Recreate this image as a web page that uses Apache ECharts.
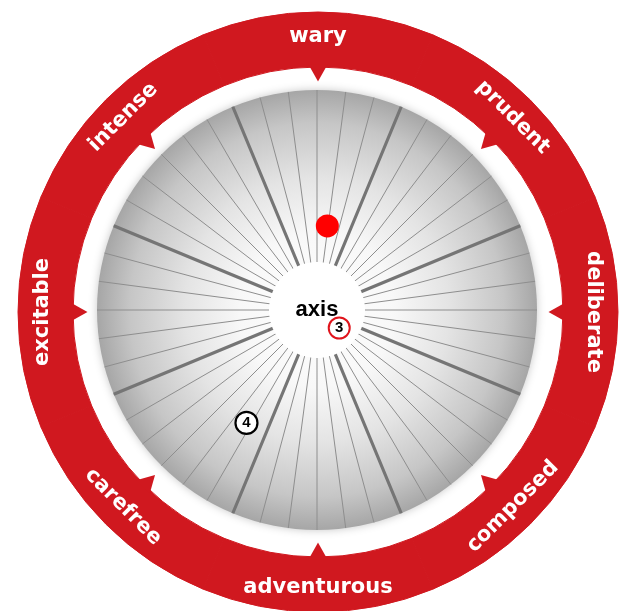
<!DOCTYPE html>
<html><head><meta charset="utf-8">
<script src="https://cdn.jsdelivr.net/npm/echarts@6/dist/echarts.min.js"></script>
<style>html,body{margin:0;padding:0;background:#fff}#c{width:621px;height:611px}</style>
</head><body><div id="c"></div>
<script>
// ---- data ----
const traits = ['wary', 'prudent', 'deliberate', 'composed', 'adventurous', 'carefree', 'excitable', 'intense'];
const traitAngles = [90, 45, 0, -45, -90, -135, 180, 135];
const centerLabel = 'axis';
const markerNames = ['', '3', '4'];
const markerRadius = [38.5, 13, 60.5];
const markerAngle = [83, 321, 238];
const spokeInterval = 7.5;
const sectorInterval = 45;

// ---- styles ----
const RED = '#d0181f';
const discC = [317, 310], ringC = [318, 312];
const markerStyles = [
  { size: 23, color: '#ff0000', border: '#ff0000', bw: 0 },
  { size: 21, color: '#ffffff', border: '#e0141c', bw: 2 },
  { size: 22, color: '#ffffff', border: '#000000', bw: 2.2 }
];

function hiddenRadius(idx, max) {
  return { polarIndex: idx, type: 'value', min: 0, max: max,
    axisLine: { show: false }, axisTick: { show: false }, axisLabel: { show: false }, splitLine: { show: false } };
}
function angleAx(idx, interval, start, line) {
  return { polarIndex: idx, type: 'value', min: 0, max: 360, interval: interval, startAngle: start, clockwise: false, z: 3,
    axisLine: { show: false }, axisTick: { show: false }, axisLabel: { show: false },
    splitLine: line ? { show: true, lineStyle: line } : { show: false } };
}

const chart = echarts.init(document.getElementById('c'), null, { renderer: 'canvas' });
const option = {
  backgroundColor: '#ffffff',
  animation: false,
  polar: [
    { center: discC, radius: 220 },
    { center: discC, radius: 220 },
    { center: ringC, radius: 300 }
  ],
  angleAxis: [
    angleAx(0, spokeInterval, 0, { color: '#8e8e8e', width: 1 }),
    angleAx(1, sectorInterval, 22.5, { color: '#757575', width: 3.2 }),
    angleAx(2, sectorInterval, 0, null)
  ],
  radiusAxis: [hiddenRadius(0, 100), hiddenRadius(1, 100), hiddenRadius(2, 300)],
  series: [
    { // gray disc
      type: 'pie', center: discC, radius: [0, 220], z: 1, silent: true,
      label: { show: false }, labelLine: { show: false },
      itemStyle: {
        color: new echarts.graphic.RadialGradient(0.5, 0.5, 0.5, [
          { offset: 0, color: '#ffffff' },
          { offset: 0.35, color: '#f8f8f8' },
          { offset: 0.6, color: '#e4e4e4' },
          { offset: 0.85, color: '#c6c6c6' },
          { offset: 1, color: '#a6a6a6' }
        ]),
        shadowBlur: 8, shadowColor: 'rgba(0,0,0,0.22)'
      },
      data: [{ value: 1, name: 'disc' }]
    },
    { // red ring
      type: 'pie', center: ringC, radius: [245, 300], startAngle: 112.5, clockwise: true, z: 1, silent: true,
      itemStyle: { color: RED, borderColor: RED, borderWidth: 1 },
      labelLine: { show: false },
      label: { show: true, position: 'inside', color: '#ffffff', fontWeight: 'bold', fontSize: 21,
        fontFamily: 'DejaVu Sans', formatter: '{b}' },
      data: traits.map((t, i) => {
        const a = traitAngles[i];
        const rot = (a >= 0 || a === 180) ? a - 90 : a + 90;
        return { name: t, value: 1, label: { rotate: rot } };
      })
    },
    { // notches
      type: 'scatter', coordinateSystem: 'polar', polarIndex: 2, z: 2, silent: true,
      symbol: 'triangle', symbolSize: [19, 17],
      symbolRotate: (v) => v[1] + 90,
      itemStyle: { color: RED, opacity: 1 },
      data: traitAngles.map(a => [239, a])
    },
    { // white centre
      type: 'pie', center: discC, radius: [0, 48], z: 4, silent: true,
      itemStyle: { color: '#ffffff' }, labelLine: { show: false },
      label: { show: true, position: 'center', formatter: '{b}', color: '#000', fontWeight: 'bold',
        fontSize: 22, fontFamily: 'Liberation Sans' },
      data: [{ value: 1, name: centerLabel }]
    },
    { // markers
      type: 'scatter', coordinateSystem: 'polar', polarIndex: 0, z: 5, silent: true,
      symbol: 'circle',
      label: { show: true, position: 'inside', formatter: '{b}', color: '#000', fontWeight: 'bold',
        fontSize: 15, fontFamily: 'Liberation Sans' },
      data: markerNames.map((n, i) => ({
        name: n, value: [markerRadius[i], markerAngle[i]], symbolSize: markerStyles[i].size,
        itemStyle: { opacity: 1, color: markerStyles[i].color, borderColor: markerStyles[i].border, borderWidth: markerStyles[i].bw }
      }))
    }
  ]
};
chart.setOption(option);
</script>
</body></html>
